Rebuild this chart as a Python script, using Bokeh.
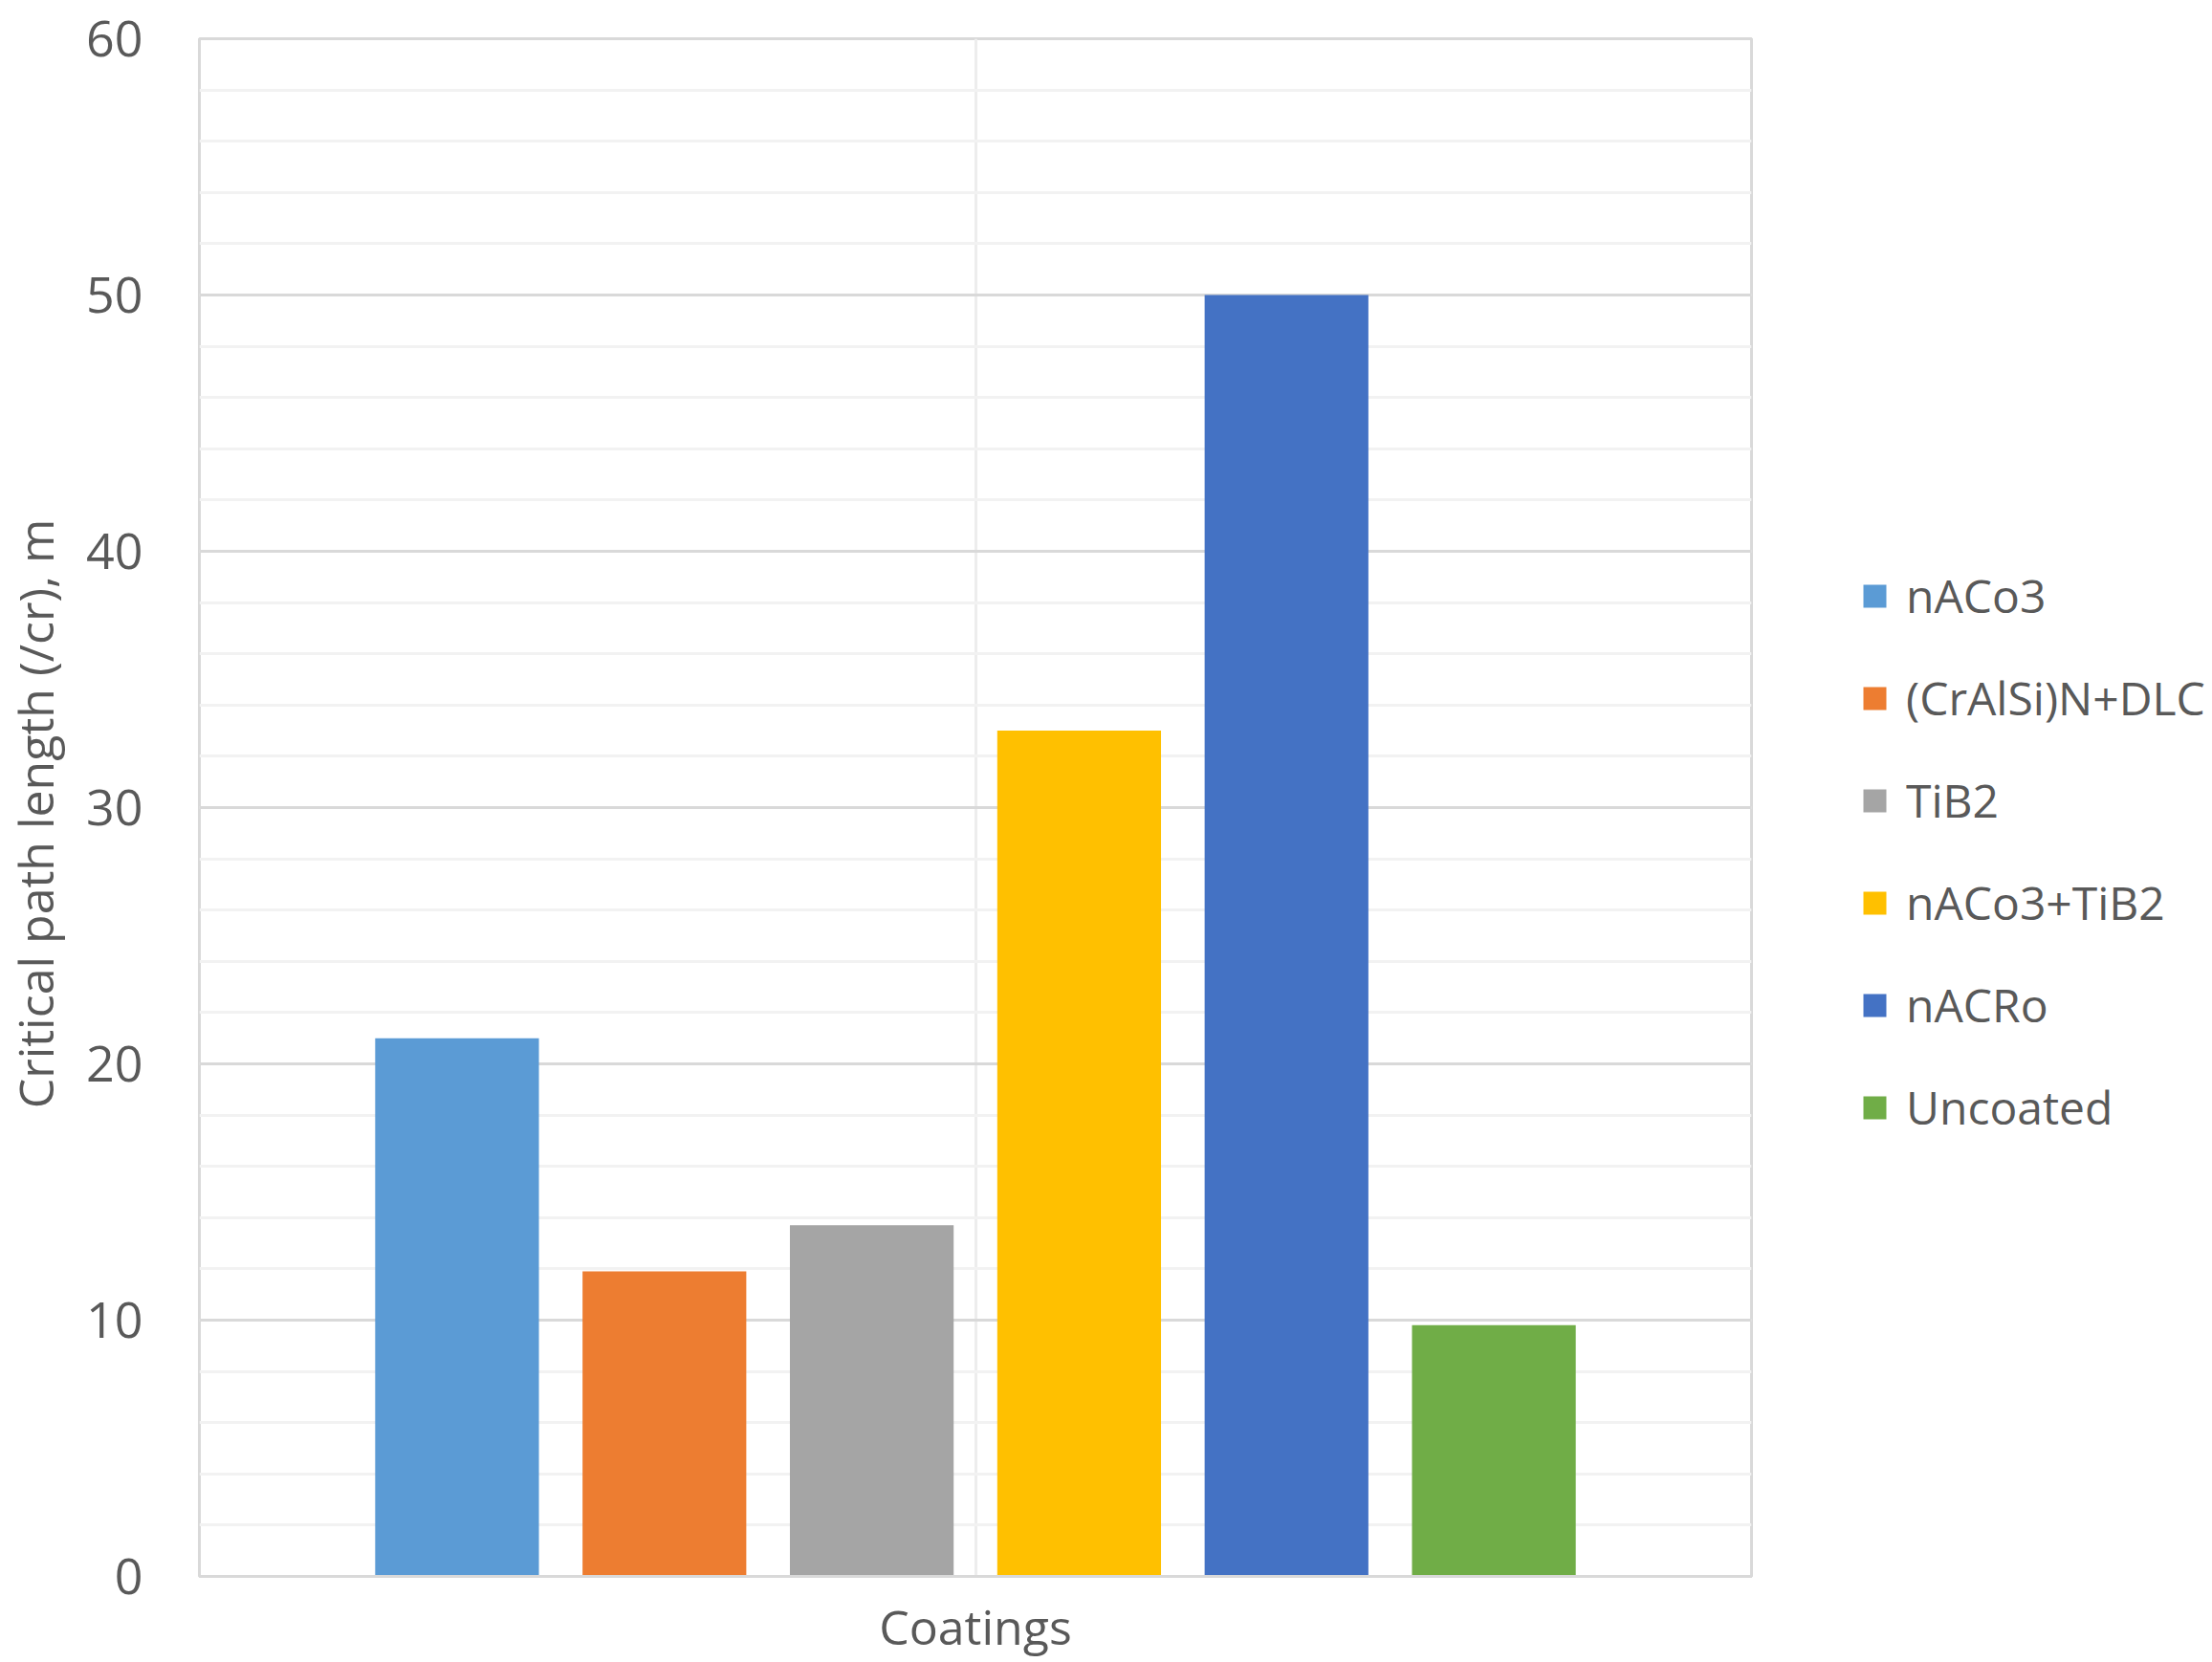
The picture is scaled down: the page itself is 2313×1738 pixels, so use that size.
# Critical path length per coating - grouped bar chart (one category, six series)

from bokeh.embed import file_html
from bokeh.models import ColumnDataSource, FactorRange, Legend, LegendItem, Range1d, SingleIntervalTicker
from bokeh.plotting import figure
from bokeh.resources import INLINE
from bokeh.transform import dodge

# データ
category = ["Coatings"]
coatings = ["nACo3", "(CrAlSi)N+DLC", "TiB2", "nACo3+TiB2", "nACRo", "Uncoated"]
path_length = [21.0, 11.9, 13.7, 33.0, 50.0, 9.8]
colors = ["#5b9bd5", "#ed7d31", "#a5a5a5", "#ffc000", "#4472c4", "#70ad47"]

FONT = "Open Sans"
TXT = "#595959"

p = figure(x_range=FactorRange(factors=category, range_padding=0), y_range=Range1d(0, 60),
           frame_width=1623, frame_height=1608, output_backend="svg", toolbar_location=None,
           min_border_left=198, min_border_right=470, min_border_top=40, min_border_bottom=20)

# 棒の配置 (Excel風: 6本を中央に並べる)
step = 0.1336
bar_w = 0.1055
items = []
for i, (name, val, col) in enumerate(zip(coatings, path_length, colors)):
    src = ColumnDataSource(data=dict(x=category, y=[val]))
    r = p.vbar(x=dodge("x", (i - 2.5) * step, range=p.x_range), top="y", width=bar_w,
               source=src, color=col, line_color=None)
    items.append(LegendItem(label=name, renderers=[r]))

# 凡例はプロット枠の右外側に置く
legend = Legend(items=items, location=(114, 458), border_line_color=None,
                background_fill_alpha=0,
                label_text_font=FONT, label_text_font_size="48px", label_text_color=TXT,
                glyph_width=30, glyph_height=30, label_standoff=18, spacing=42,
                label_height=60, padding=0, margin=0)
p.add_layout(legend, "right")

# 軸
p.yaxis.ticker = SingleIntervalTicker(interval=10, num_minor_ticks=5)
p.yaxis.axis_line_color = None
p.yaxis.major_tick_line_color = None
p.yaxis.minor_tick_line_color = None
p.yaxis.major_label_text_font = FONT
p.yaxis.major_label_text_font_size = "52px"
p.yaxis.major_label_text_color = TXT
p.yaxis.major_label_standoff = 53
p.yaxis.axis_label = "Critical path length  (/cr), m"
p.yaxis.axis_label_text_font = FONT
p.yaxis.axis_label_text_font_size = "50px"
p.yaxis.axis_label_text_font_style = "normal"
p.yaxis.axis_label_text_color = TXT
p.yaxis.axis_label_standoff = 16

p.xaxis.axis_line_color = "#d9d9d9"
p.xaxis.axis_line_width = 3
p.xaxis.major_tick_line_color = None
p.xaxis.minor_tick_line_color = None
p.xaxis.major_label_text_font = FONT
p.xaxis.major_label_text_font_size = "50px"
p.xaxis.major_label_text_color = TXT
p.xaxis.major_label_standoff = 12

# グリッド
p.ygrid.grid_line_color = "#d9d9d9"
p.ygrid.grid_line_width = 3
p.ygrid.minor_grid_line_color = "#f2f2f2"
p.ygrid.minor_grid_line_width = 3
p.xgrid.grid_line_color = "#ededed"
p.xgrid.grid_line_width = 3

p.outline_line_color = "#d9d9d9"
p.outline_line_width = 3
p.background_fill_color = "white"
p.border_fill_color = "white"

open("out.html", "w").write(file_html(p, INLINE))
